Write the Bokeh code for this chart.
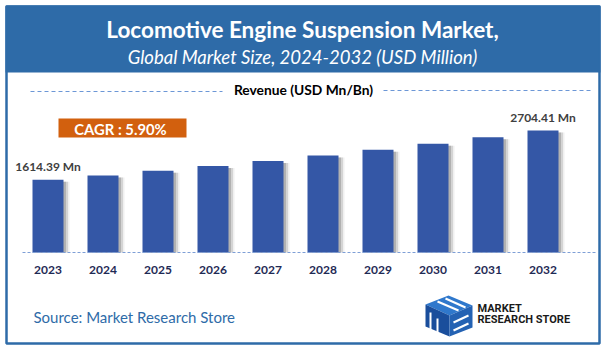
from bokeh.plotting import figure
from bokeh.models import Range1d
from bokeh.core.properties import value
from bokeh.embed import file_html
from bokeh.resources import INLINE

# ---- data ----
years = [2023, 2024, 2025, 2026, 2027, 2028, 2029, 2030, 2031, 2032]
year_labels = ["2023", "2024", "2025", "2026", "2027", "2028", "2029", "2030", "2031", "2032"]
revenue = [1614.39, 1709.6, 1810.5, 1917.3, 2030.4, 2150.2, 2277.1, 2411.4, 2553.7, 2704.41]
label_years = [2023, 2032]
label_values = [1614.39, 2704.41]
label_texts = ["1614.39 Mn", "2704.41 Mn"]
title_text = "Locomotive Engine Suspension Market,"
subtitle_text = "Global Market Size, 2024-2032 (USD Million)"
legend_text = "Revenue (USD Mn/Bn)"
cagr_text = "CAGR : 5.90%"
source_text = "Source: Market Research Store"

W, H = 604, 349
PX_PER_YEAR = 55.0
X_CENTER_2023 = 47.5
BASE_PY = 252.0
K = 122.0 / 2704.41  # px per unit


def dx(px):
    return years[0] + (px - X_CENTER_2023) / PX_PER_YEAR


def dy(py):
    return (BASE_PY - py) / K


p = figure(width=W, height=H, output_backend="svg", toolbar_location=None,
           x_range=Range1d(dx(0), dx(W)), y_range=Range1d(dy(H), dy(0)),
           x_axis_location=None, y_axis_location=None, min_border=0)
p.outline_line_color = None
p.grid.visible = False
p.background_fill_color = "white"
p.border_fill_color = "white"

BLUE = "#2E6BA8"

# title band
p.quad(left=[dx(5)], right=[dx(600)], top=[dy(5)], bottom=[dy(72)],
       fill_color=BLUE, line_color=None)
# outer frame
p.quad(left=[dx(6)], right=[dx(599)], top=[dy(6)], bottom=[dy(343)],
       fill_color=None, line_color=BLUE, line_width=2.5)

p.text(x=[dx(302)], y=[dy(29)], text=[title_text], text_align="center",
       text_baseline="middle", text_color="white", text_font=value("Lato"),
       text_font_style="bold", text_font_size="22.5px")
p.text(x=[dx(302)], y=[dy(56)], text=[subtitle_text], text_align="center",
       text_baseline="middle", text_color="white", text_font=value("Lato"),
       text_font_style="italic", text_font_size="18.5px")

# legend row
p.line(x=[dx(30), dx(222)], y=[dy(91), dy(91)], line_color="#6C97D6",
       line_dash="4 3", line_width=1)
p.line(x=[dx(383), dx(591)], y=[dy(90), dy(90)], line_color="#6C97D6",
       line_dash="4 3", line_width=1)
p.text(x=[dx(303)], y=[dy(89)], text=[legend_text], text_align="center",
       text_baseline="middle", text_color="black", text_font=value("Lato"),
       text_font_style="bold", text_font_size="13.8px")

# CAGR box
p.quad(left=[dx(58)], right=[dx(186)], top=[dy(118)], bottom=[dy(137)],
       fill_color="#D2600E", line_color=None)
p.text(x=[dx(120)], y=[dy(128)], text=[cagr_text], text_align="center",
       text_baseline="middle", text_color="white", text_font=value("Lato"),
       text_font_style="bold", text_font_size="14.8px")

# bar shadows
bw = 31.0 / PX_PER_YEAR
for shift, alpha in [(2.5, 0.35), (4.5, 0.22), (6.0, 0.10)]:
    p.vbar(x=[y + shift / PX_PER_YEAR for y in years], top=[v - 2 / K for v in revenue],
           bottom=0, width=bw, fill_color="#707070", fill_alpha=alpha, line_color=None)
# bars
p.vbar(x=years, top=revenue, bottom=0, width=bw, fill_color="#3457A6", line_color=None)

# baseline
p.line(x=[dx(22), dx(596)], y=[0, 0], line_color="#7E9FD6", line_dash="3 2", line_width=1)

# value labels
p.text(x=label_years, y=label_values, text=label_texts, text_align="center",
       text_baseline="middle", y_offset=-13, text_color="#404040",
       text_font=value("Lato"), text_font_style="bold", text_font_size="12px")

# year labels
p.text(x=years, y=[0] * len(years), text=year_labels, text_align="center",
       text_baseline="middle", y_offset=17, text_color="#1F2A55",
       text_font=value("Lato"), text_font_style="bold", text_font_size="12px")

# source
p.text(x=[dx(33)], y=[dy(316)], text=[source_text], text_align="left",
       text_baseline="middle", text_color="#2E6BA8", text_font=value("Lato"),
       text_font_size="15px")

# logo (cube)
top_face = [(448, 295), (472, 305), (449, 315), (425, 304)]
left_face = [(425, 304), (449, 315), (449, 336), (425, 326)]
right_face = [(449, 315), (472, 305), (472, 327), (449, 336)]
faces = [top_face, left_face, right_face]
p.patches(xs=[[dx(a) for a, b in f] for f in faces], ys=[[dy(b) for a, b in f] for f in faces],
          fill_color=["#2F78CC", "#1A4E9C", "#2462B3"], line_color=None)
# white stripes suggesting letters
stripes = [
    [(437, 301), (458, 310)], [(445, 298), (465, 307)],
    [(430, 312), (430, 330)], [(437, 318), (437, 333)],
    [(453, 322), (468, 315)], [(453, 330), (468, 323)],
]
p.multi_line(xs=[[dx(a) for a, b in s] for s in stripes], ys=[[dy(b) for a, b in s] for s in stripes],
             line_color="white", line_width=2)
p.text(x=[dx(477), dx(477)], y=[dy(308), dy(319)], text=["MARKET", "RESEARCH STORE"],
       text_align="left", text_baseline="middle", text_color="#1a1a1a",
       text_font=value("Roboto"), text_font_style="bold", text_font_size="11px")

open("out.html", "w").write(file_html(p, INLINE))
